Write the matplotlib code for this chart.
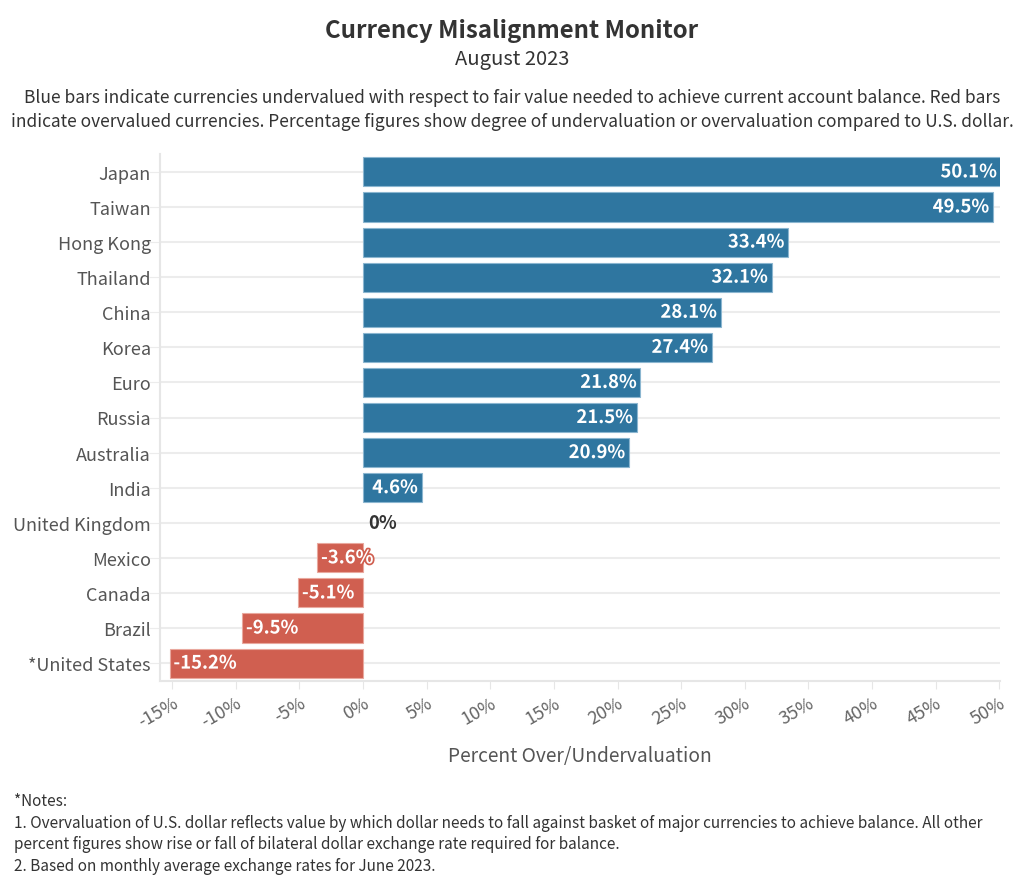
import matplotlib
matplotlib.use('Agg')
from matplotlib import pyplot as plt
import matplotlib.patheffects as pe
import matplotlib.transforms as mtransforms
from matplotlib.ticker import FuncFormatter

plt.rcParams['font.family'] = ['Noto Sans CJK JP', 'DejaVu Sans']

countries = ['Japan', 'Taiwan', 'Hong Kong', 'Thailand', 'China', 'Korea', 'Euro',
             'Russia', 'Australia', 'India', 'United Kingdom', 'Mexico', 'Canada',
             'Brazil', '*United States']
values = [50.1, 49.5, 33.4, 32.1, 28.1, 27.4, 21.8, 21.5, 20.9, 4.6, 0.0, -3.6, -5.1, -9.5, -15.2]
ticks = list(range(-15, 51, 5))

blue = '#2f76a0'
red = '#d05f50'
blue_edge = '#8bb6d0'
red_edge = '#e9a89e'

fig = plt.figure(figsize=(10.24, 8.87), dpi=100)
ax = fig.add_axes([160/1024, 1 - 682/887, 840/1024, (682 - 155)/887])

ypos = list(range(len(countries)))
colors = [blue if v >= 0 else red for v in values]
edges = [blue_edge if v >= 0 else red_edge for v in values]
widths = [0.8 if v != 0 else 0 for v in values]
ax.barh(ypos, values, height=0.83, color=colors, edgecolor=edges, linewidth=widths, zorder=3)

for y, v, c in zip(ypos, values, colors):
    label = f'{v:.1f}%' if v != 0 else '0%'
    if v > 0:
        ax.text(v - 0.3, y, label, ha='right', va='center', color='white', fontsize=13.3,
                fontweight='bold', zorder=4,
                path_effects=[pe.withStroke(linewidth=2.5, foreground=c)])
    elif v < 0:
        ax.text(v + 0.3, y, label, ha='left', va='center', color='white', fontsize=13.3,
                fontweight='bold', zorder=4,
                path_effects=[pe.withStroke(linewidth=2.5, foreground=c)])
    else:
        ax.text(0.4, y, label, ha='left', va='center', color='#333333', fontsize=13.3,
                fontweight='bold', zorder=4)

ax.set_xlim(-15.95, 50.05)
ax.set_ylim(len(countries) - 0.49, -0.51)
ax.set_yticks(ypos)
ax.set_yticklabels(countries, fontsize=13, color='#555555')
ax.set_xticks(ticks)
ax.xaxis.set_major_formatter(FuncFormatter(lambda x, p: f'{x:.0f}%'))
shift = mtransforms.ScaledTranslation(5/100, 0, fig.dpi_scale_trans)
for lab in ax.get_xticklabels():
    lab.set_rotation(30)
    lab.set_ha('right')
    lab.set_rotation_mode('anchor')
    lab.set_fontsize(13)
    lab.set_color('#666666')
    lab.set_transform(lab.get_transform() + shift)
ax.tick_params(axis='x', length=6, color='#e6e6e6', pad=3)
ax.tick_params(axis='y', length=8, color='#ececec', pad=-1.5)

ax.grid(axis='y', color='#ececec', linewidth=1.5, zorder=0)
for s in ['top', 'right']:
    ax.spines[s].set_visible(False)
for s in ['left', 'bottom']:
    ax.spines[s].set_color('#e6e6e6')
    ax.spines[s].set_linewidth(1.5)

ax.set_xlabel('Percent Over/Undervaluation', fontsize=13.8, color='#555555', labelpad=10)

fig.text(0.5, 1 - 31/887, 'Currency Misalignment Monitor', ha='center', va='center',
         fontsize=17.3, fontweight='bold', color='#333333')
fig.text(0.5, 1 - 59/887, 'August 2023', ha='center', va='center', fontsize=14.5, color='#333333')
fig.text(0.5, 1 - 110/887,
         'Blue bars indicate currencies undervalued with respect to fair value needed to achieve current account balance. Red bars\n'
         'indicate overvalued currencies. Percentage figures show degree of undervaluation or overvaluation compared to U.S. dollar.',
         ha='center', va='center', fontsize=12.5, color='#333333', linespacing=1.42)

notes = ('*Notes:\n'
         '1. Overvaluation of U.S. dollar reflects value by which dollar needs to fall against basket of major currencies to achieve balance. All other\n'
         'percent figures show rise or fall of bilateral dollar exchange rate required for balance.\n'
         '2. Based on monthly average exchange rates for June 2023.')
fig.text(14/1024, 1 - 834/887, notes, ha='left', va='center', fontsize=11.05, color='#333333',
         linespacing=1.37)

fig.savefig('out.png', dpi=100)
